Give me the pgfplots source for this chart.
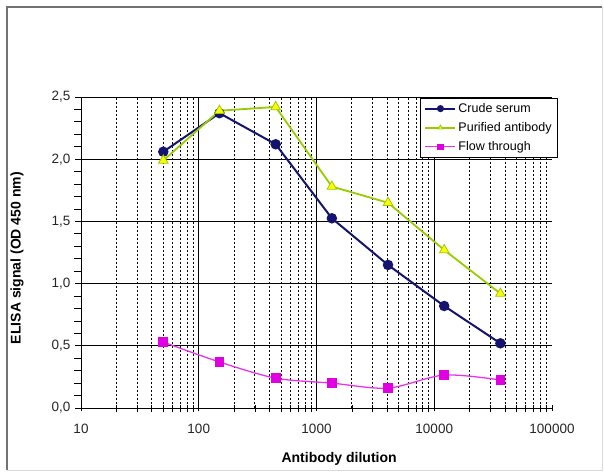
\documentclass[border=0pt]{standalone}
\usepackage{pgfplots}
\pgfplotsset{compat=1.18}
\usepackage{fontspec}
\setmainfont{Liberation Sans}
\definecolor{crude}{RGB}{20,20,110}
\definecolor{purline}{RGB}{153,204,0}
\definecolor{purfill}{RGB}{255,255,0}
\definecolor{flow}{RGB}{235,50,235}
\definecolor{flowm}{RGB}{225,0,225}
\begin{document}
\begin{tikzpicture}[x=1pt,y=1pt]
\path (0,0) rectangle (604,472);
\draw[black!55,line width=1.4pt] (7,2) -- (7,465) -- (602,465);
\draw[black!15,line width=1pt] (602,465) -- (602,2) -- (7,2);
\begin{axis}[
  at={(81pt,64pt)}, anchor=south west,
  scale only axis, width=471pt, height=311pt,
  xmode=log, xmin=10, xmax=100000, ymin=0, ymax=2.5,
  axis x line*=bottom, axis y line*=left,
  axis line style={-, black, line width=0.8pt},
  xtick={10,100,1000,10000},
  xticklabels={10,100,1000,10000},
  extra x ticks={100000}, extra x tick labels={100000},
  extra x tick style={grid=none},
  minor xtick={20,30,40,50,60,70,80,90,200,300,400,500,600,700,800,900,2000,3000,4000,5000,6000,7000,8000,9000,20000,30000,40000,50000,60000,70000,80000,90000},
  ytick={0,0.5,1,1.5,2,2.5},
  minor y tick num=4,
  /pgf/number format/fixed,
  /pgf/number format/fixed zerofill,
  /pgf/number format/precision=1,
  /pgf/number format/use comma,
  /pgf/number format/assume math mode=true,
  xmajorgrids, xminorgrids, ymajorgrids,
  major grid style={black, line width=0.8pt},
  minor grid style={black, line width=0.9pt, dash pattern=on 2pt off 2pt},
  xtick align=center, ytick align=outside,
  major tick length=6pt, minor tick length=7pt,
  tick style={black, line width=0.8pt},
  ticklabel style={font=\fontsize{13.5}{15}\selectfont, text=black!85},
  xticklabel style={yshift=-10pt},
  yticklabel style={xshift=-1pt},
  xlabel={Antibody dilution},
  ylabel={ELISA signal (OD 450 nm)},
  label style={font=\fontsize{14}{16}\selectfont\bfseries},
  xlabel style={at={(axis description cs:0.548,-0.164)}, anchor=center},
  ylabel style={at={(axis description cs:-0.136,0.482)}, anchor=center},
  legend style={at={(1.0127,0.997)}, anchor=north east, draw=black, line width=0.8pt,
    font=\fontsize{12.5}{14}\selectfont, cells={anchor=west}, row sep=4.5pt,
    inner xsep=4pt, inner ysep=3pt},
  legend image code/.code={
    \draw[#1] (0pt,0pt) -- (30pt,0pt);
    \path[#1, mark size=2.5pt] plot coordinates {(15pt,0pt)};},
]
\addplot[crude, line width=2pt, mark=*, mark size=4.2pt, mark options={fill=crude, draw=crude}]
  coordinates {(50,2.06) (150,2.37) (450,2.12) (1350,1.525) (4050,1.15) (12150,0.82) (36450,0.52)};
\addlegendentry{Crude serum}
\addplot[purline, line width=1.8pt, mark=triangle*, mark size=5.5pt, mark options={fill=purfill, draw=purline, line width=0.8pt}]
  coordinates {(50,1.99) (150,2.39) (450,2.42) (1350,1.78) (4050,1.65) (12150,1.27) (36450,0.92)};
\addlegendentry{Purified antibody}
\addplot[flow, line width=1.3pt, smooth, mark=square*, mark size=4.2pt, mark options={fill=flowm, draw=flowm}]
  coordinates {(50,0.53) (150,0.37) (450,0.24) (1350,0.20) (4050,0.16) (12150,0.265) (36450,0.225)};
\addlegendentry{Flow through}
\end{axis}
\end{tikzpicture}
\end{document}
